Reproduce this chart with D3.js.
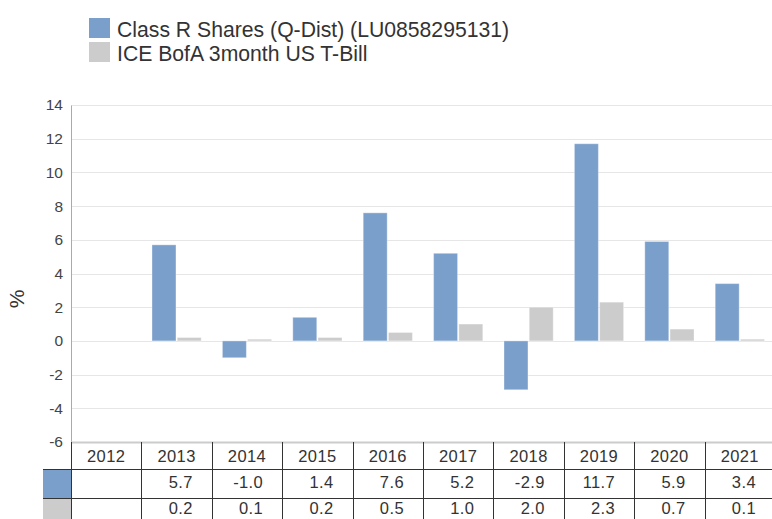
<!DOCTYPE html>
<html lang="en">
<head>
<meta charset="UTF-8">
<title>Calendar year returns</title>
<script src="https://d3js.org/d3.v7.min.js"></script>
<style>
  body { margin: 0; background: #fff; font-family: "Liberation Sans", Arial, sans-serif; }
  svg { display: block; }
</style>
</head>
<body>
<svg width="772" height="519"></svg>
<script>
const years = ["2012", "2013", "2014", "2015", "2016", "2017", "2018", "2019", "2020", "2021"];
const fundValues = [null, 5.7, -1.0, 1.4, 7.6, 5.2, -2.9, 11.7, 5.9, 3.4];
const benchValues = [null, 0.2, 0.1, 0.2, 0.5, 1.0, 2.0, 2.3, 0.7, 0.1];
const seriesNames = ["Class R Shares (Q-Dist) (LU0858295131)", "ICE BofA 3month US T-Bill"];
const seriesColors = ["#7a9fcb", "#cccccc"];
const yTicks = [-6, -4, -2, 0, 2, 4, 6, 8, 10, 12, 14];

const svg = d3.select("svg");
const plotLeft = 71, plotRight = 775, plotTop = 105, plotBottom = 442;

const x = d3.scaleBand().domain(years).range([plotLeft, plotRight]).padding(0);
const x1 = d3.scaleBand().domain([0, 1]).range([0, x.bandwidth()]).paddingInner(0.05).paddingOuter(0.42);
const y = d3.scaleLinear().domain([-6, 14]).range([plotBottom, plotTop]);

// legend
const legend = svg.append("g").attr("transform", "translate(89,18)");
seriesNames.forEach((name, i) => {
  legend.append("rect").attr("x", 0).attr("y", i * 24).attr("width", 21).attr("height", 20)
    .attr("fill", seriesColors[i]);
  legend.append("text").attr("x", 28).attr("y", i * 24 + 18.5)
    .attr("font-size", 21.2).attr("fill", "#333").text(name);
});

// grid
svg.append("g").selectAll("line").data(yTicks).join("line")
  .attr("x1", plotLeft).attr("x2", 772)
  .attr("y1", d => Math.round(y(d)) + 0.5).attr("y2", d => Math.round(y(d)) + 0.5)
  .attr("stroke", "#e6e6e6");

// y axis
const yAxis = svg.append("g").attr("transform", `translate(${plotLeft},0)`)
  .call(d3.axisLeft(y).tickValues(yTicks).tickSize(0).tickPadding(8).tickFormat(d => String(d)));
yAxis.select(".domain").attr("stroke", "#aaa");
yAxis.selectAll("text").attr("font-size", 15.5).attr("fill", "#444")
  .attr("font-family", "Liberation Sans, Arial, sans-serif");

svg.append("text").attr("transform", "translate(24,299) rotate(-90)")
  .attr("text-anchor", "middle").attr("font-size", 21).attr("fill", "#333").text("%");

// bars
const series = [fundValues, benchValues];
series.forEach((vals, s) => {
  svg.append("g").selectAll("rect")
    .data(years.map((yr, i) => ({ yr, v: vals[i] })).filter(d => d.v !== null))
    .join("rect")
    .attr("x", d => x(d.yr) + x1(s))
    .attr("width", x1.bandwidth())
    .attr("y", d => y(Math.max(0, d.v)))
    .attr("height", d => Math.abs(y(d.v) - y(0)))
    .attr("fill", seriesColors[s])
    .attr("stroke", "rgba(255,255,255,0.35)")
    .attr("stroke-width", 1);
});

// data table
const rowY = [442, 469, 498, 527];
const baseY = [462, 488, 514];
const table = svg.append("g");
// swatch cells
series.forEach((vals, s) => {
  table.append("rect").attr("x", 43).attr("y", rowY[s + 1]).attr("width", plotLeft - 43)
    .attr("height", rowY[s + 2] - rowY[s + 1]).attr("fill", seriesColors[s]);
});
// top line (axis)
table.append("line").attr("x1", plotLeft).attr("x2", 772).attr("y1", 442.5).attr("y2", 442.5)
  .attr("stroke", "#ccc").attr("stroke-width", 2);
// row lines
[469, 498].forEach(ry => {
  table.append("line").attr("x1", 43).attr("x2", 772).attr("y1", ry + 0.5).attr("y2", ry + 0.5)
    .attr("stroke", "#333");
});
// column lines
const colEdges = years.map(yr => x(yr)).concat([plotRight]);
table.selectAll(".col").data(colEdges).join("line")
  .attr("x1", d => Math.round(d) + 0.5).attr("x2", d => Math.round(d) + 0.5)
  .attr("y1", 442).attr("y2", 519)
  .attr("stroke", "#333");
// header years
table.selectAll(".yr").data(years).join("text")
  .attr("x", d => x(d) + x.bandwidth() / 2).attr("y", baseY[0])
  .attr("text-anchor", "middle").attr("font-size", 16.5).attr("letter-spacing", 0.4)
  .attr("fill", "#333").text(d => d);
// values
series.forEach((vals, s) => {
  table.append("g").selectAll("text")
    .data(years.map((yr, i) => ({ yr, v: vals[i] })).filter(d => d.v !== null))
    .join("text")
    .attr("x", d => x(d.yr) + x.bandwidth() - 19)
    .attr("y", baseY[s + 1])
    .attr("text-anchor", "end").attr("font-size", 16.5).attr("letter-spacing", 0.4)
    .attr("fill", "#333")
    .text(d => d.v.toFixed(1));
});
</script>
</body>
</html>
